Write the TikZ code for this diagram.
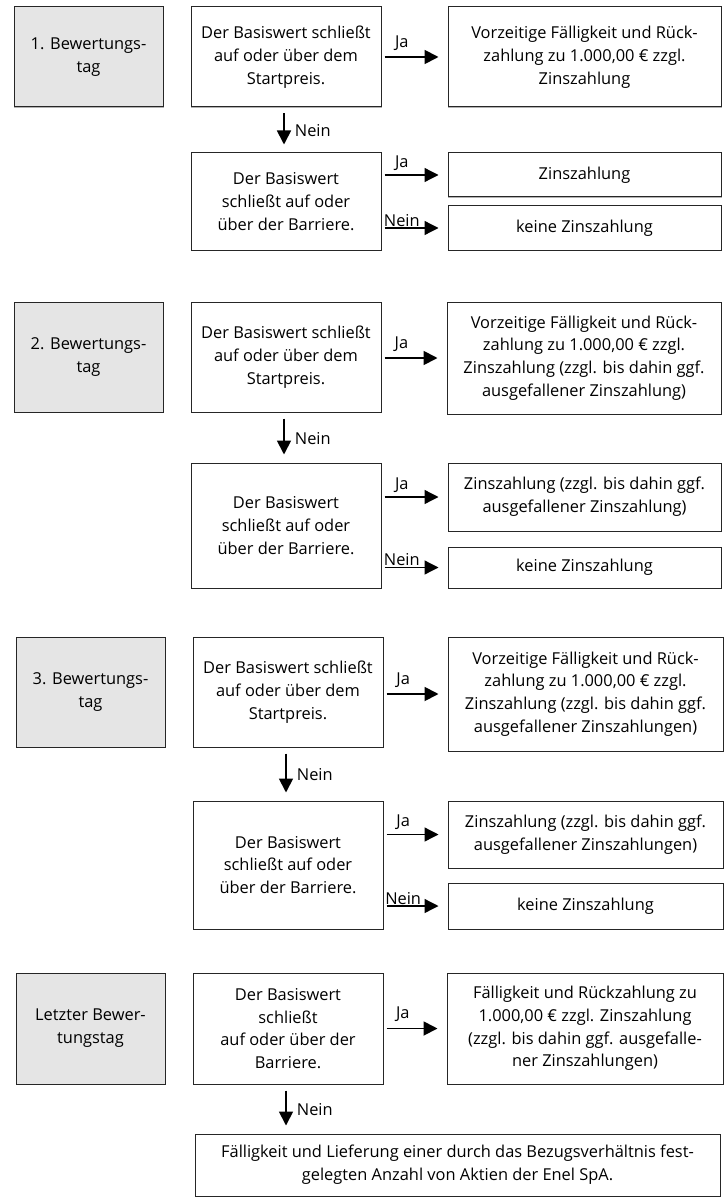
\documentclass[tikz,border=0pt]{standalone}
\usepackage{fontspec}
\setmainfont{Open Sans}
\usetikzlibrary{arrows.meta}
\newcommand\fs{\fontsize{16.4pt}{22.8pt}\selectfont}
\tikzset{
  basebox/.style={draw=black!85, line width=1pt, align=center, inner sep=2pt, font=\fs,
    preaction={draw=black!30, line width=1pt, transform canvas={shift={(0.9pt,-0.9pt)}}}},
  daybox/.style={basebox, fill=black!10},
  textbox/.style={basebox, fill=white},
  arr/.style={line width=1.8pt, -{Triangle[length=14pt,width=14pt]}},
  arrthin/.style={line width=1.3pt, -{Triangle[length=14pt,width=14pt]}},
  lab/.style={font=\fs, inner sep=1pt},
}
\newcommand\mybox[7]{%
  \pgfmathsetmacro\bw{#5-#3}\pgfmathsetmacro\bh{#6-#4}%
  \pgfmathsetmacro\bx{(#3+#5)/2}\pgfmathsetmacro\by{(#4+#6)/2}%
  \node[#2, minimum width=\bw pt, minimum height=\bh pt] (#1) at (\bx,\by) {#7};}
\begin{document}
\begin{tikzpicture}[x=1pt,y=-1pt]
\useasboundingbox (0,0) rectangle (727,1198);
% ---------- Section 1
\mybox{d1}{daybox}{14}{7}{163}{107}{1. Bewertungs-\\tag}
\mybox{a1}{textbox}{191}{7}{381}{107}{Der Basiswert schließt\\auf oder über dem\\Startpreis.}
\mybox{r1}{textbox}{448}{7}{721}{107}{Vorzeitige Fälligkeit und Rück-\\zahlung zu 1.000,00 € zzgl.\\Zinszahlung}
\mybox{b1}{textbox}{191}{153}{381}{250}{Der Basiswert\\schließt auf oder\\über der Barriere.}
\mybox{z1}{textbox}{448}{153}{721}{197}{Zinszahlung}
\mybox{k1}{textbox}{448}{206}{721}{250}{keine Zinszahlung}
\draw[arr] ([xshift=3pt]a1.east) -- node[lab, pos=0.32, above=5pt]{Ja} ([xshift=-9pt]r1.west);
\draw[arr] ([xshift=-2pt,yshift=-6pt]a1.south) -- node[lab, pos=0.55, right=9pt]{Nein} ([xshift=-2pt,yshift=8pt]b1.north);
\draw[arrthin] ([xshift=3pt]b1.east |- z1.west) -- node[lab, pos=0.32, above=3pt]{Ja} ([xshift=-9pt]z1.west);
\draw[arrthin] ([xshift=3pt]b1.east |- k1.west) -- node[lab, pos=0.32, above=0pt]{Nein} ([xshift=-9pt]k1.west);
% ---------- Section 2
\mybox{d2}{daybox}{14}{302}{163}{412}{2. Bewertungs-\\tag}
\mybox{a2}{textbox}{191}{302}{381}{412}{Der Basiswert schließt\\auf oder über dem\\Startpreis.}
\mybox{r2}{textbox}{447}{302}{721}{414}{Vorzeitige Fälligkeit und Rück-\\zahlung zu 1.000,00 € zzgl.\\Zinszahlung (zzgl. bis dahin ggf.\\ausgefallener Zinszahlung)}
\mybox{b2}{textbox}{191}{463}{381}{588}{Der Basiswert\\schließt auf oder\\über der Barriere.}
\mybox{z2}{textbox}{448}{463}{721}{531}{Zinszahlung (zzgl. bis dahin ggf.\\ausgefallener Zinszahlung)}
\mybox{k2}{textbox}{448}{547}{721}{588}{keine Zinszahlung}
\draw[arr] ([xshift=3pt]a2.east |- r2.west) -- node[lab, pos=0.32, above=5pt]{Ja} ([xshift=-9pt]r2.west);
\draw[arr] ([xshift=-2pt,yshift=-6pt]a2.south) -- node[lab, pos=0.55, right=9pt]{Nein} ([xshift=-2pt,yshift=8pt]b2.north);
\draw[arrthin] ([xshift=3pt]b2.east |- z2.west) -- node[lab, pos=0.32, above=3pt]{Ja} ([xshift=-9pt]z2.west);
\draw[arrthin] ([xshift=3pt]b2.east |- k2.west) -- node[lab, pos=0.32, above=0pt]{Nein} ([xshift=-9pt]k2.west);
% ---------- Section 3
\mybox{d3}{daybox}{16}{637}{165}{747}{3. Bewertungs-\\tag}
\mybox{a3}{textbox}{193}{637}{383}{747}{Der Basiswert schließt\\auf oder über dem\\Startpreis.}
\mybox{r3}{textbox}{448}{637}{723}{751}{Vorzeitige Fälligkeit und Rück-\\zahlung zu 1.000,00 € zzgl.\\Zinszahlung (zzgl. bis dahin ggf.\\ausgefallener Zinszahlungen)}
\mybox{b3}{textbox}{193}{801}{383}{929}{Der Basiswert\\schließt auf oder\\über der Barriere.}
\mybox{z3}{textbox}{448}{801}{723}{868}{Zinszahlung (zzgl. bis dahin ggf.\\ausgefallener Zinszahlungen)}
\mybox{k3}{textbox}{448}{883}{723}{929}{keine Zinszahlung}
\draw[arr] ([xshift=3pt]a3.east |- r3.west) -- node[lab, pos=0.32, above=5pt]{Ja} ([xshift=-9pt]r3.west);
\draw[arr] ([xshift=-2pt,yshift=-6pt]a3.south) -- node[lab, pos=0.55, right=9pt]{Nein} ([xshift=-2pt,yshift=8pt]b3.north);
\draw[arrthin] ([xshift=3pt]b3.east |- z3.west) -- node[lab, pos=0.32, above=3pt]{Ja} ([xshift=-9pt]z3.west);
\draw[arrthin] ([xshift=3pt]b3.east |- k3.west) -- node[lab, pos=0.32, above=0pt]{Nein} ([xshift=-9pt]k3.west);
% ---------- Section 4
\mybox{d4}{daybox}{16}{973}{165}{1084}{Letzter Bewer-\\tungstag}
\mybox{a4}{textbox}{193}{973}{383}{1084}{Der Basiswert\\schließt\\auf oder über der\\Barriere.}
\mybox{r4}{textbox}{447}{973}{723}{1084}{Fälligkeit und Rückzahlung zu\\1.000,00 € zzgl. Zinszahlung\\(zzgl. bis dahin ggf. ausgefalle-\\ner Zinszahlungen)}
\mybox{f4}{textbox}{195}{1134}{720}{1196}{Fälligkeit und Lieferung einer durch das Bezugsverhältnis fest-\\gelegten Anzahl von Aktien der Enel SpA.}
\draw[arr] ([xshift=3pt]a4.east |- r4.west) -- node[lab, pos=0.32, above=5pt]{Ja} ([xshift=-9pt]r4.west);
\coordinate (n4s) at ([xshift=-2pt,yshift=-6pt]a4.south);
\coordinate (f4n) at ([yshift=8pt]f4.north);
\draw[arr] (n4s) -- node[lab, pos=0.55, right=9pt]{Nein} (n4s |- f4n);
\end{tikzpicture}
\end{document}
